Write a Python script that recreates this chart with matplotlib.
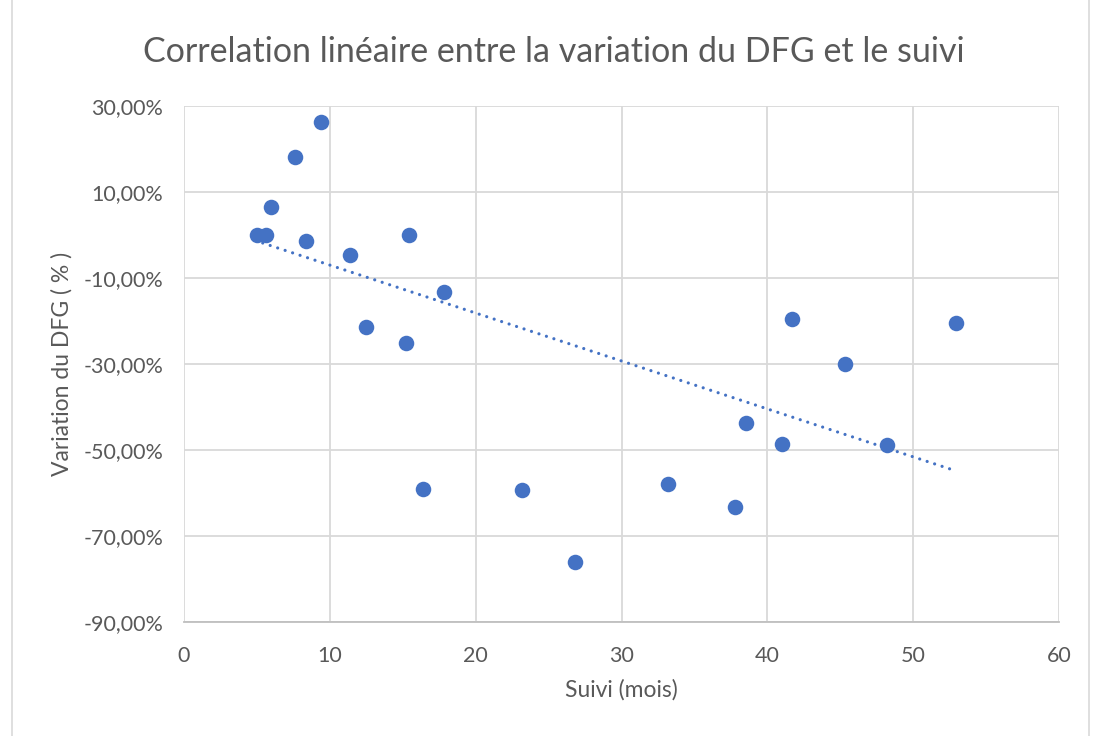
import matplotlib
matplotlib.use("Agg")
import matplotlib.pyplot as plt
import numpy as np
from matplotlib.ticker import FuncFormatter

plt.rcParams['font.family'] = ['Lato', 'DejaVu Sans']

suivi = [5.0, 5.6, 6.0, 7.6, 9.4, 8.4, 11.4, 15.4, 12.5, 15.2, 17.8, 16.4,
         23.2, 26.8, 33.2, 37.8, 38.5, 41.0, 41.7, 45.3, 48.2, 52.9]
variation = [0.0, 0.0, 6.4, 18.1, 26.2, -1.5, -4.7, 0.0, -21.3, -25.2, -13.3, -59.1,
             -59.3, -76.0, -57.9, -63.3, -43.7, -48.5, -19.6, -30.0, -48.8, -20.5]

# linear trendline as displayed in the reference chart
trend_slope = -1.115
trend_intercept = 4.15

title = "Correlation linéaire entre la variation du DFG et le suivi"
xlabel = "Suivi (mois)"
ylabel = "Variation du DFG ( % )"
xticks = [0, 10, 20, 30, 40, 50, 60]
yticks = [-90, -70, -50, -30, -10, 10, 30]

text_color = "#595959"
blue = "#4472C4"

fig = plt.figure(figsize=(10.93, 7.36), dpi=100)
ax = fig.add_axes([0.1683, 0.1549, 0.969 - 0.1683, 0.856 - 0.1549])

ax.scatter(suivi, variation, s=125, color=blue, zorder=3, linewidths=0)

xs = np.array([min(suivi) + 0.4, max(suivi) - 0.3])
ax.plot(xs, trend_slope * xs + trend_intercept, linestyle=(0, (0.01, 2.45)),
        color=blue, linewidth=2.3, dash_capstyle='round', zorder=2)

ax.set_xlim(0, 60)
ax.set_ylim(-90, 30)
ax.set_xticks(xticks)
ax.set_yticks(yticks)
ax.yaxis.set_major_formatter(FuncFormatter(lambda v, p: f"{v:.2f}%".replace(".", ",")))
ax.grid(True, color="#D9D9D9", linewidth=1.3, zorder=0)
ax.set_axisbelow(True)
for s in ['top', 'right', 'left']:
    ax.spines[s].set_visible(False)
ax.spines['bottom'].set_color("#BFBFBF")
ax.spines['bottom'].set_linewidth(1.3)
ax.tick_params(length=0, labelsize=15.5, colors=text_color)
ax.tick_params(axis='y', pad=15)
ax.tick_params(axis='x', pad=17)

ax.set_xlabel(xlabel, fontsize=16.5, color=text_color, va='center')
ax.set_ylabel(ylabel, fontsize=16.5, color=text_color, va='center')
ax.xaxis.set_label_coords(0.5, -0.132)
ax.yaxis.set_label_coords(-0.1394, 0.5)
fig.text(0.507, 0.929, title, ha='center', va='center', fontsize=24.5, color=text_color)

border = plt.Rectangle((0.011, -0.01), 0.985, 1.02, transform=fig.transFigure,
                       fill=False, edgecolor="#D9D9D9", linewidth=1.2)
fig.patches.append(border)

fig.savefig("out.png", dpi=100, facecolor="white")
